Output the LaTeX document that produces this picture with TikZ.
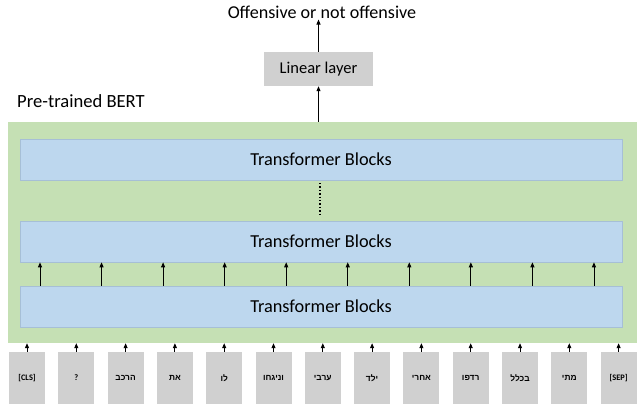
\documentclass[tikz,border=0pt]{standalone}
\usepackage{fontspec}
\setmainfont{Carlito}
\newfontfamily\hebfont[Script=Hebrew]{Liberation Sans}
\TeXXeTstate=1
\usetikzlibrary{arrows.meta}
\definecolor{bertgreen}{HTML}{C5E0B4}
\definecolor{blockblue}{HTML}{BDD7EE}
\definecolor{blockline}{HTML}{A6BFD6}
\definecolor{tokgray}{HTML}{D0D0D0}
\tikzset{
  arr/.style={-{Triangle[length=5pt,width=4pt]}, line width=0.9pt},
  tblock/.style={draw=blockline, line width=0.6pt, fill=blockblue, minimum width=602pt, minimum height=41pt, inner sep=0pt, font=\fontsize{18.3}{22}\selectfont},
  tok/.style={fill=tokgray, minimum width=36pt, minimum height=52pt, inner sep=0pt, font=\fontsize{8.4}{10}\selectfont\bfseries}
}
\begin{document}
\begin{tikzpicture}[x=1pt,y=-1pt]
\useasboundingbox (0,0) rectangle (644,404);
\node[fill=bertgreen, minimum width=629pt, minimum height=221pt, inner sep=0pt] (bert) at (322.5,232.5) {};
\node[tblock] (tb1) at (321,159.5) {Transformer Blocks};
\node[tblock] (tb2) at (321,241.5) {Transformer Blocks};
\node[tblock] (tb3) at (321,306.5) {Transformer Blocks};
\node[fill=tokgray, minimum width=109pt, minimum height=34pt, inner sep=0pt, font=\fontsize{16.5}{19}\selectfont] (lin) at (318.5,69) {Linear layer};
\node[font=\fontsize{18.1}{22}\selectfont, inner sep=1pt] (title) at (322,12) {Offensive or not offensive};
\node[anchor=west, font=\fontsize{18.6}{22}\selectfont, inner sep=0pt] (ptb) at (17,101) {Pre-trained BERT};
\coordinate (dtop) at (320,183);
\coordinate (dbot) at (320,215);
\draw[line width=1.4pt, dotted] (dtop) -- (dbot);
\draw[arr] (bert.north -| lin.south) -- (lin.south);
\draw[arr] (lin.north) -- (title.south -| lin.north);
\foreach \i in {0,...,9} {
  \coordinate (ax\i) at ({40+\i*61.55},0);
  \draw[arr] (tb3.north -| ax\i) -- (tb2.south -| ax\i);
}
\foreach \t [count=\i from 0] in {[CLS],?,{\hebfont\beginR הרכב\endR},{\hebfont\beginR את\endR},{\hebfont\beginR לו\endR},{\hebfont\beginR וניגחו\endR},{\hebfont\beginR ערבי\endR},{\hebfont\beginR ילד\endR},{\hebfont\beginR אחרי\endR},{\hebfont\beginR רדפו\endR},{\hebfont\beginR בכלל\endR},{\hebfont\beginR מתי\endR},[SEP]} {
  \node[tok] (t\i) at ({27+\i*49.3},378) {\t};
  \draw[arr] (t\i.north) -- (t\i.north |- bert.south);
}
\end{tikzpicture}
\end{document}
